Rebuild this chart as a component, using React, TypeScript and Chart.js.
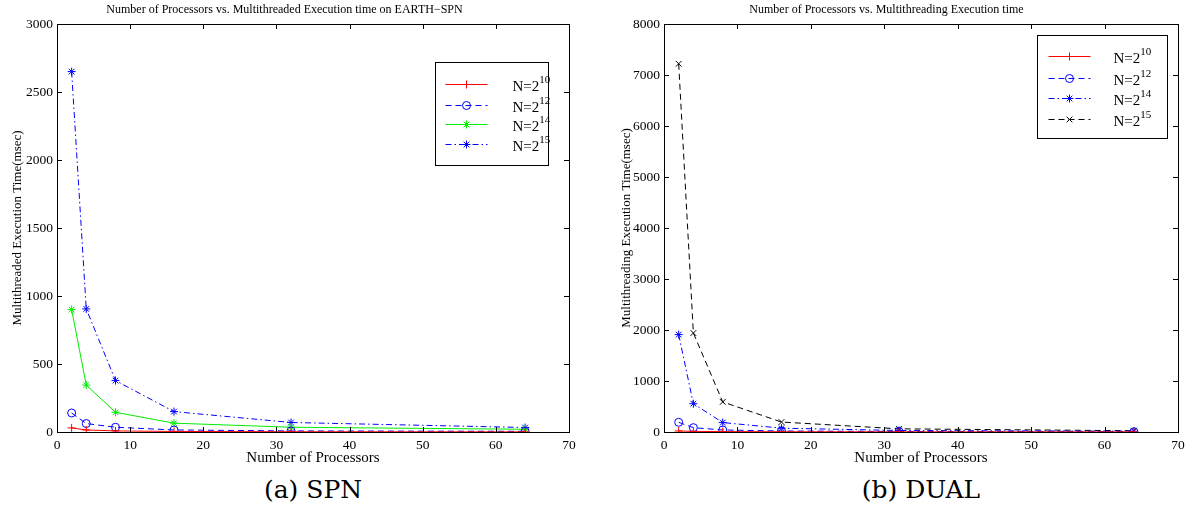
import React, { useEffect, useRef } from "react";
import { Chart, registerables } from "chart.js";

Chart.register(...registerables);

// ---------- data ----------
const processors = [2, 4, 8, 16, 32, 64];
const xTicks = [0, 10, 20, 30, 40, 50, 60, 70];

// (a) SPN
const spnN10 = [30, 15, 8, 4, 2, 1];
const spnN12 = [140, 62, 35, 15, 8, 5];
const spnN14 = [900, 345, 145, 65, 35, 20];
const spnN15 = [2650, 905, 378, 150, 70, 33];

// (b) DUAL
const dualN10 = [20, 12, 8, 5, 3, 2];
const dualN12 = [190, 85, 40, 20, 10, 5];
const dualN14 = [1910, 555, 185, 75, 30, 15];
const dualN15 = [7220, 1940, 590, 195, 62, 25];

const exponents = ["10", "12", "14", "15"];

const SERIF = '"Liberation Serif", "Times New Roman", serif';

type Style = { color: string; dash: number[]; point: string };

const spnStyles: Style[] = [
  { color: "#ff0000", dash: [], point: "cross" },
  { color: "#0000ff", dash: [6, 4], point: "circle" },
  { color: "#00ee00", dash: [], point: "star" },
  { color: "#0000ff", dash: [6, 3, 1.5, 3], point: "star" },
];
const dualStyles: Style[] = [
  { color: "#ff0000", dash: [], point: "cross" },
  { color: "#0000ff", dash: [6, 4], point: "circle" },
  { color: "#0000ff", dash: [6, 3, 1.5, 3], point: "star" },
  { color: "#000000", dash: [6, 4], point: "crossRot" },
];

function buildDatasets(series: number[][], styles: Style[]) {
  return series.map((vals, i) => ({
    label: "N=2^" + exponents[i],
    exp: exponents[i],
    data: processors.map((p, j) => ({ x: p, y: vals[j] })),
    borderColor: styles[i].color,
    backgroundColor: styles[i].color,
    borderWidth: 1,
    borderDash: styles[i].dash,
    pointStyle: styles[i].point,
    pointRadius: 4,
    pointHoverRadius: 4,
    pointBorderWidth: 1,
    pointBorderColor: styles[i].color,
    pointBackgroundColor: styles[i].point === "circle" ? "rgba(0,0,0,0)" : styles[i].color,
    tension: 0,
    fill: false,
  }));
}

function drawMarker(ctx: CanvasRenderingContext2D, style: string, x: number, y: number, r: number, color: string) {
  ctx.save();
  ctx.setLineDash([]);
  ctx.strokeStyle = color;
  ctx.lineWidth = 1;
  ctx.beginPath();
  if (style === "circle") {
    ctx.arc(x, y, r, 0, Math.PI * 2);
  } else {
    const d = r * Math.SQRT1_2;
    if (style === "cross" || style === "star") {
      ctx.moveTo(x - r, y);
      ctx.lineTo(x + r, y);
      ctx.moveTo(x, y - r);
      ctx.lineTo(x, y + r);
    }
    if (style === "crossRot" || style === "star") {
      ctx.moveTo(x - d, y - d);
      ctx.lineTo(x + d, y + d);
      ctx.moveTo(x - d, y + d);
      ctx.lineTo(x + d, y - d);
    }
  }
  ctx.stroke();
  ctx.restore();
}

const matlabPlugin = {
  id: "matlab",
  afterDraw(chart: any, _args: any, opts: any) {
    const { ctx, chartArea } = chart;
    const { left, right, top, bottom } = chartArea;
    const xs = chart.scales.x;
    const ys = chart.scales.y;
    ctx.save();
    ctx.setLineDash([]);
    ctx.strokeStyle = "#000";
    ctx.lineWidth = 1;
    // frame
    ctx.strokeRect(Math.round(left) + 0.5, Math.round(top) + 0.5, Math.round(right - left), Math.round(bottom - top));
    // inward ticks
    const tl = 5;
    ctx.beginPath();
    xs.ticks.forEach((t: any) => {
      const px = Math.round(xs.getPixelForValue(t.value)) + 0.5;
      ctx.moveTo(px, bottom);
      ctx.lineTo(px, bottom - tl);
      ctx.moveTo(px, top);
      ctx.lineTo(px, top + tl);
    });
    ys.ticks.forEach((t: any) => {
      const py = Math.round(ys.getPixelForValue(t.value)) + 0.5;
      ctx.moveTo(left, py);
      ctx.lineTo(left + tl, py);
      ctx.moveTo(right, py);
      ctx.lineTo(right - tl, py);
    });
    ctx.stroke();

    // legend
    const bx = Math.round(left + opts.x) + 0.5;
    const by = Math.round(top + opts.y) + 0.5;
    ctx.fillStyle = "#fff";
    ctx.fillRect(bx, by, opts.w, opts.h);
    ctx.strokeStyle = "#000";
    ctx.strokeRect(bx, by, opts.w, opts.h);
    chart.data.datasets.forEach((ds: any, i: number) => {
      const y = Math.round(by + opts.rows[i]) + 0.5;
      ctx.save();
      ctx.strokeStyle = ds.borderColor;
      ctx.lineWidth = 1;
      ctx.setLineDash(ds.borderDash || []);
      ctx.beginPath();
      ctx.moveTo(bx + opts.l0, y);
      ctx.lineTo(bx + opts.l1, y);
      ctx.stroke();
      ctx.restore();
      drawMarker(ctx, ds.pointStyle, bx + (opts.l0 + opts.l1) / 2, y, 4, ds.borderColor);
      ctx.fillStyle = "#000";
      ctx.textAlign = "left";
      ctx.textBaseline = "alphabetic";
      ctx.font = "15px " + SERIF;
      const base = "N=2";
      const tx = bx + opts.tx;
      ctx.fillText(base, tx, y + 6);
      const w = ctx.measureText(base).width;
      ctx.font = "11px " + SERIF;
      ctx.fillText(ds.exp, tx + w, y - 2);
    });
    ctx.restore();
  },
};

type PanelProps = {
  title: string;
  yTitle: string;
  yMax: number;
  yStep: number;
  datasets: any[];
  yAxisWidth: number;
  yTitlePad: number;
  padRight: number;
  legend: any;
};

function Panel(p: PanelProps) {
  const ref = useRef<HTMLCanvasElement>(null);
  useEffect(() => {
    if (!ref.current) return;
    const chart = new Chart(ref.current, {
      type: "line",
      data: { datasets: p.datasets },
      plugins: [matlabPlugin as any],
      options: {
        animation: false,
        responsive: false,
        maintainAspectRatio: false,
        layout: { padding: { left: 0, right: p.padRight, top: 0, bottom: 0 } },
        plugins: {
          legend: { display: false },
          tooltip: { enabled: false },
          title: {
            display: true,
            text: p.title,
            color: "#000",
            font: { family: SERIF, size: 12, weight: "normal" },
            padding: { top: 3, bottom: 6.6 },
          },
          matlab: p.legend,
        } as any,
        scales: {
          x: {
            type: "linear",
            min: 0,
            max: 70,
            afterBuildTicks: (s: any) => {
              s.ticks = xTicks.map((v) => ({ value: v }));
            },
            afterFit: (s: any) => {
              s.height = 36;
            },
            grid: { display: false, drawTicks: false },
            border: { display: false },
            ticks: {
              color: "#000",
              padding: 5,
              maxRotation: 0,
              font: { family: SERIF, size: 13.5 },
              callback: (v: any) => String(v),
            },
            title: {
              display: true,
              text: "Number of Processors",
              color: "#000",
              font: { family: SERIF, size: 15 },
              padding: { top: 0, bottom: 1 },
            },
          },
          y: {
            type: "linear",
            min: 0,
            max: p.yMax,
            afterFit: (s: any) => {
              s.width = p.yAxisWidth;
            },
            grid: { display: false, drawTicks: false },
            border: { display: false },
            ticks: {
              color: "#000",
              padding: 4,
              stepSize: p.yStep,
              font: { family: SERIF, size: 13.5 },
              callback: (v: any) => String(v),
            },
            title: {
              display: true,
              text: p.yTitle,
              color: "#000",
              font: { family: SERIF, size: 13 },
              padding: { top: p.yTitlePad, bottom: 0 },
            },
          },
        },
      } as any,
    });
    return () => chart.destroy();
  }, []);
  return <canvas ref={ref} width={595} height={468} style={{ display: "block", width: 595, height: 468 }} />;
}

const captionStyle: React.CSSProperties = {
  position: "absolute",
  top: 474,
  fontFamily: '"DejaVu Serif", serif',
  fontSize: 25,
  lineHeight: "32px",
  color: "#000",
  textAlign: "center",
  width: 300,
};

export default function App() {
  const spn = buildDatasets([spnN10, spnN12, spnN14, spnN15], spnStyles);
  const dual = buildDatasets([dualN10, dualN12, dualN14, dualN15], dualStyles);
  return (
    <div style={{ position: "fixed", left: 0, top: 0, width: 1190, height: 512, background: "#fff" }}>
      <div style={{ position: "absolute", left: 0, top: 0 }}>
        <Panel
          title="Number of Processors vs. Multithreaded Execution time on EARTH−SPN"
          yTitle="Multithreaded Execution Time(msec)"
          yMax={3000}
          yStep={500}
          datasets={spn}
          yAxisWidth={57}
          yTitlePad={10}
          padRight={26}
          legend={{ x: 378, y: 38, w: 113, h: 103, rows: [21, 42, 61, 81], l0: 10, l1: 52, tx: 77 }}
        />
      </div>
      <div style={{ position: "absolute", left: 595, top: 0 }}>
        <Panel
          title="Number of Processors vs. Multithreading Execution time"
          yTitle="Multithreading Execution Time(msec)"
          yMax={8000}
          yStep={1000}
          datasets={dual}
          yAxisWidth={69}
          yTitlePad={24}
          padRight={12}
          legend={{ x: 373, y: 11, w: 130, h: 103, rows: [20, 42, 62, 83], l0: 11, l1: 53, tx: 76 }}
        />
      </div>
      <div style={{ ...captionStyle, left: 313 - 150 }}>(a) SPN</div>
      <div style={{ ...captionStyle, left: 921 - 150 }}>(b) DUAL</div>
    </div>
  );
}
